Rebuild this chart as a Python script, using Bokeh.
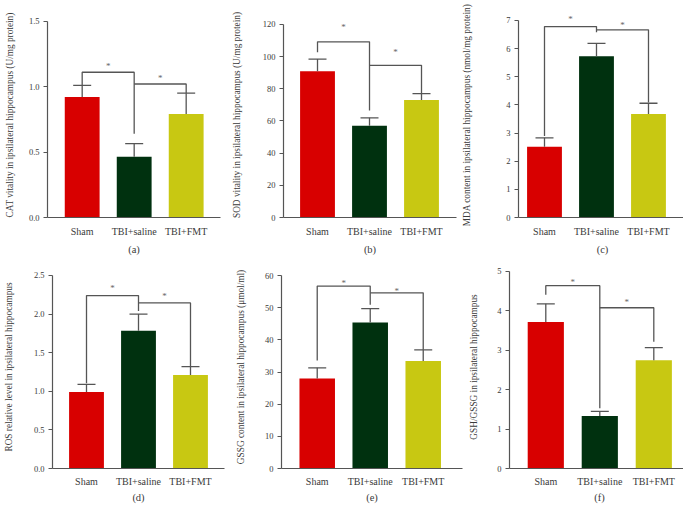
from bokeh.plotting import figure
from bokeh.layouts import column, row
from bokeh.models import Range1d, FixedTicker, Whisker, TeeHead, ColumnDataSource, PrintfTickFormatter
from bokeh.embed import file_html
from bokeh.resources import INLINE
from bokeh.core.properties import value

# ---------------- data ----------------
categories = ["Sham", "TBI+saline", "TBI+FMT"]
bar_colors = ["#D80000", "#00310F", "#C8C812"]

cat_mean = [0.92, 0.465, 0.79]
cat_upper = [1.01, 0.565, 0.95]
cat_ticks = [0.0, 0.5, 1.0, 1.5]

sod_mean = [91, 57, 73]
sod_upper = [98.5, 62, 77]
sod_ticks = [0, 20, 40, 60, 80, 100, 120]

mda_mean = [2.51, 5.73, 3.68]
mda_upper = [2.83, 6.19, 4.06]
mda_ticks = [0, 1, 2, 3, 4, 5, 6, 7]

ros_mean = [0.99, 1.785, 1.21]
ros_upper = [1.09, 2.0, 1.32]
ros_ticks = [0.0, 0.5, 1.0, 1.5, 2.0, 2.5]

gssg_mean = [28.0, 45.4, 33.4]
gssg_upper = [31.3, 49.7, 36.9]
gssg_ticks = [0, 10, 20, 30, 40, 50, 60]

ratio_mean = [3.72, 1.33, 2.75]
ratio_upper = [4.18, 1.45, 3.07]
ratio_ticks = [0, 1, 2, 3, 4, 5]

# significance brackets: (left index, right index, height, left end, right end), star heights
cat_brackets = [(0, 1, 1.11, 1.01, 0.64), (1, 2, 1.02, 1.02, 0.95)]
cat_stars = [1.17, 1.08]
sod_brackets = [(0, 1, 109.2, 102.8, 66.6), (1, 2, 94.6, 94.6, 77.0)]
sod_stars = [119.4, 104.3]
mda_brackets = [(0, 1, 6.785, 2.9, 6.58), (1, 2, 6.67, 6.67, 4.09)]
mda_stars = [7.12, 6.9]
ros_brackets = [(0, 1, 2.24, 1.105, 2.04), (1, 2, 2.145, 2.145, 1.32)]
ros_stars = [2.36, 2.26]
gssg_brackets = [(0, 1, 56.7, 33.6, 50.9), (1, 2, 54.6, 54.6, 36.9)]
gssg_stars = [58.4, 55.9]
ratio_brackets = [(0, 1, 4.64, 4.41, 1.53), (1, 2, 4.08, 4.08, 3.22)]
ratio_stars = [4.79, 4.28]

ylabels = [
    "CAT vitality in ipsilateral hippocampus (U/mg protein)",
    "SOD vitality in ipsilateral hippocampus (U/mg protein)",
    "MDA content in ipsilateral hippocampus (nmol/mg protein)",
    "ROS relative level in ipsilateral hippocampus",
    "GSSG content in ipsilateral hippocampus (\u03bcmol/ml)",
    "GSH/GSSG in ipsilateral hippocampus",
]
panel_letters = ["(a)", "(b)", "(c)", "(d)", "(e)", "(f)"]

# ---------------- style ----------------
FONT = "Liberation Serif"
TEXT = "#3a3a3a"
LINE = "#555555"


def make_panel(means, uppers, ticks, fmt, ylabel, letter, brackets, stars,
               xr, y_end, fw, fh, bl, br, bt, bb, ylab_standoff, xlab_standoff, xaxlab_standoff):
    p = figure(frame_width=fw, frame_height=fh,
               x_range=Range1d(*xr), y_range=Range1d(0, y_end),
               output_backend="svg", toolbar_location=None,
               min_border_left=bl, min_border_right=br,
               min_border_top=bt, min_border_bottom=bb,
               background_fill_color="white", border_fill_color="white")
    p.outline_line_color = None
    p.grid.visible = False
    xs = list(range(len(categories)))
    src = ColumnDataSource(dict(x=xs, mean=means, upper=uppers, color=bar_colors))
    p.vbar(x="x", top="mean", bottom=0, width=0.67, fill_color="color", line_color=None, source=src)
    wh = Whisker(source=src, base="x", lower="mean", upper="upper",
                 line_color=LINE, line_width=1.3,
                 upper_head=TeeHead(size=18, line_color=LINE, line_width=1.3),
                 lower_head=None, level="overlay")
    p.add_layout(wh)
    for (i, j, h, le, re), sy in zip(brackets, stars):
        p.line(x=[xs[i], xs[i], xs[j], xs[j]], y=[le, h, h, re], line_color=LINE, line_width=1.3)
        p.text(x=[(xs[i] + xs[j]) / 2], y=[sy], text=["*"], text_align="center",
               text_baseline="middle", text_font=value(FONT), text_font_size="9px",
               text_color="#666666", y_offset=2)
    # y axis
    ya = p.yaxis[0]
    ya.ticker = FixedTicker(ticks=ticks)
    ya.formatter = PrintfTickFormatter(format=fmt)
    ya.bounds = (ticks[0], ticks[-1])
    ya.minor_tick_line_color = None
    ya.major_tick_out = 4
    ya.major_tick_in = 0
    ya.major_tick_line_color = LINE
    ya.axis_line_color = LINE
    ya.axis_line_width = 1.2
    ya.major_label_text_font = FONT
    ya.major_label_text_font_size = "8.5px"
    ya.major_label_text_color = TEXT
    ya.major_label_standoff = 4
    ya.axis_label = ylabel
    ya.axis_label_text_font = FONT
    ya.axis_label_text_font_size = "9.3px"
    ya.axis_label_text_font_style = "normal"
    ya.axis_label_text_color = TEXT
    ya.axis_label_standoff = ylab_standoff
    # x axis
    xa = p.xaxis[0]
    xa.ticker = FixedTicker(ticks=xs)
    xa.major_label_overrides = {x: c for x, c in zip(xs, categories)}
    xa.minor_tick_line_color = None
    xa.major_tick_line_color = None
    xa.major_tick_out = 0
    xa.major_tick_in = 0
    xa.axis_line_color = LINE
    xa.axis_line_width = 1.2
    xa.major_label_text_font = FONT
    xa.major_label_text_font_size = "10px"
    xa.major_label_text_color = TEXT
    xa.major_label_standoff = xlab_standoff
    xa.axis_label = letter
    xa.axis_label_text_font = FONT
    xa.axis_label_text_font_size = "10.5px"
    xa.axis_label_text_font_style = "normal"
    xa.axis_label_text_color = TEXT
    xa.axis_label_standoff = xaxlab_standoff
    return p


r1 = dict(fh=205, bt=12, bb=39, xlab_standoff=8, xaxlab_standoff=4)
r2 = dict(fh=203, bt=8, bb=38, xlab_standoff=7, xaxlab_standoff=2)

pa = make_panel(cat_mean, cat_upper, cat_ticks, "%.1f", ylabels[0], panel_letters[0],
                cat_brackets, cat_stars, (-0.667, 2.66), 1.5665, 173, bl=47, br=8, ylab_standoff=11, **r1)
pb = make_panel(sod_mean, sod_upper, sod_ticks, "%d", ylabels[1], panel_letters[1],
                sod_brackets, sod_stars, (-0.654, 2.673), 127.46, 173, bl=54, br=3, ylab_standoff=18, **r1)
pc = make_panel(mda_mean, mda_upper, mda_ticks, "%d", ylabels[2], panel_letters[2],
                mda_brackets, mda_stars, (-0.5, 2.731), 7.284, 168, bl=56, br=1, ylab_standoff=31, **r1)
pd = make_panel(ros_mean, ros_upper, ros_ticks, "%.1f", ylabels[3], panel_letters[3],
                ros_brackets, ros_stars, (-0.654, 2.654), 2.6295, 172, bl=46, br=8, ylab_standoff=17, **r2)
pe = make_panel(gssg_mean, gssg_upper, gssg_ticks, "%d", ylabels[4], panel_letters[4],
                gssg_brackets, gssg_stars, (-0.674, 2.741), 63.11, 181, bl=48, br=1, ylab_standoff=16, **r2)
pf = make_panel(ratio_mean, ratio_upper, ratio_ticks, "%d", ylabels[5], panel_letters[5],
                ratio_brackets, ratio_stars, (-0.672, 2.661), 5.152, 180, bl=46, br=1, ylab_standoff=15, **r2)

layout = column(row(pa, pb, pc), row(pd, pe, pf))
open("out.html", "w").write(file_html(layout, INLINE))
